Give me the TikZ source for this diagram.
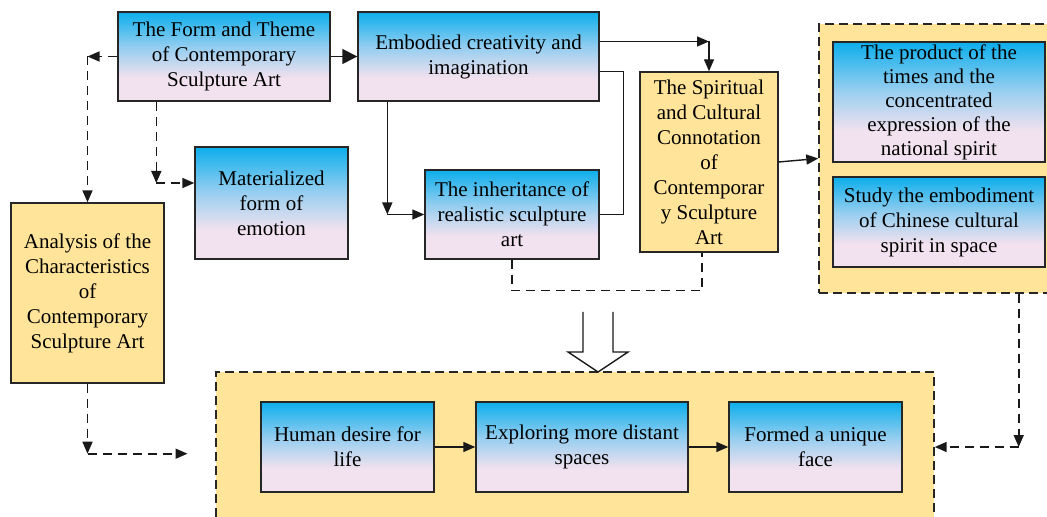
\documentclass[tikz,border=0pt]{standalone}
\usepackage{fontspec}
\setmainfont{Liberation Serif}
\usetikzlibrary{arrows.meta,positioning,calc}
\definecolor{skytop}{RGB}{12,174,236}
\definecolor{skymid}{RGB}{150,206,240}
\definecolor{skybot}{RGB}{242,225,238}
\definecolor{sandc}{RGB}{255,228,153}
\pgfdeclareverticalshading{skyshade}{100bp}{
	color(0bp)=(skybot); color(25bp)=(skybot); color(38bp)=(skybot);
	color(55bp)=(skymid); color(75bp)=(skytop); color(100bp)=(skytop)
}
\tikzset{
	skybox/.style={
		rectangle, draw=black!85, line width=0.7pt, shading=skyshade,
		align=center, inner sep=1pt, font=\fontsize{10.5}{12.5}\selectfont
	},
	%
	sandbox/.style={
		rectangle, draw=black!85, line width=0.7pt, fill=sandc,
		align=center, inner sep=1pt, font=\fontsize{10.5}{12.5}\selectfont
	},
	%
	groupbox/.style={
		rectangle, draw=black!85, line width=0.7pt, fill=sandc,
		dash pattern=on 4.5pt off 2.5pt
	},
	%
	link/.style={
		line width=0.7pt, draw=black!90, -{Triangle[length=6pt,width=5pt]}
	},
	%
	dlink/.style={
		link, line width=0.8pt, dash pattern=on 4.5pt off 3pt
	}
}

\begin{document}
\begin{tikzpicture}[x=0.5pt, y=-0.5pt]
\useasboundingbox (0,0) rectangle (1047,517);

% dashed groups
\node(outcome)[groupbox, minimum width=359pt, minimum height=75pt] at (575,447) {};
\node(spirit)[groupbox, minimum width=115pt, minimum height=134.5pt] at (934,158.5) {};

\node(form)[skybox, minimum width=106pt, minimum height=44.5pt] at (224,56.5) {The Form and Theme\\of Contemporary\\Sculpture Art};
\node(embodied)[skybox, minimum width=120.5pt, minimum height=44.5pt] at (478.5,56.5) {Embodied creativity and\\imagination};
\node(emotion)[skybox, minimum width=76.5pt, minimum height=56pt] at (271.5,203) {Materialized\\form of\\emotion};
\node(inherit)[skybox, minimum width=87pt, minimum height=44.5pt] at (512,214.5) {The inheritance of\\realistic sculpture\\art};
\node(connot)[sandbox, minimum width=69pt, minimum height=90pt] at (709,162) {The Spiritual\\and Cultural\\Connotation\\of\\Contemporar\\y Sculpture\\Art};
\node(product)[skybox, inner sep=0pt, minimum width=106pt, minimum height=60pt, font=\fontsize{10.5}{12}\selectfont] at (939,102) {The product of the\\times and the\\concentrated\\expression of the\\national spirit};
\node(chinese)[skybox, minimum width=106pt, minimum height=45pt] at (939,222) {Study the embodiment\\of Chinese cultural\\spirit in space};
\node(analysis)[sandbox, minimum width=76.5pt, minimum height=90pt] at (87.5,293) {Analysis of the\\Characteristics\\of\\Contemporary\\Sculpture Art};
\node(desire)[skybox, minimum width=86.5pt, minimum height=45pt] at (347.5,447) {Human desire for\\life};
\node(distant)[skybox, minimum width=106pt, minimum height=45pt] at (582,447) {Exploring more distant\\spaces};
\node(unique)[skybox, minimum width=86.5pt, minimum height=45pt] at (815.5,447) {Formed a unique\\face};

\draw[link, -{Triangle[length=7.5pt,width=7.5pt]}] (form) -- (embodied);
\draw[link] (desire) -- (distant);
\draw[link] (distant) -- (unique);
\draw[link] (connot.east) -- (spirit.west);

% embodied to connotation
\coordinate (e1) at ([yshift=7.5pt]embodied.east);
\coordinate (e1c) at (e1 -| connot.north);
\draw[link] (e1) -- (e1c);
\draw[link] (e1c) -- (connot.north);

% embodied down to inheritance
\coordinate (e2) at ([xshift=15pt]embodied.south west);
\coordinate (e2c) at (e2 |- inherit.west);
\draw[link] (e2) -- (e2c);
\draw[link] (e2c) -- (inherit.west);
\draw[line width=0.7pt, draw=black!90] ([yshift=-7.5pt]embodied.east) -- ++(12pt,0) |- (inherit.east);

% inheritance to connotation
\draw[line width=0.8pt, draw=black!90, dash pattern=on 4.5pt off 3pt] (inherit.south) -- ++(0,-15.5pt) -| ([xshift=-3.5pt]connot.south);

% form to analysis and emotion
\coordinate (f1c) at (analysis.north |- form.west);
\draw[dlink] (form.west) -- (f1c);
\draw[dlink] (f1c) -- (analysis.north);
\coordinate (f2) at ([xshift=19.5pt]form.south west);
\coordinate (f2e) at ([yshift=10pt]emotion.west);
\coordinate (f2c) at (f2 |- f2e);
\draw[dlink] (f2) -- (f2c);
\draw[dlink] (f2c) -- (f2e);

% analysis down
\coordinate (a1c) at ([yshift=-35pt]analysis.south);
\coordinate (a1e) at ([xshift=50pt]a1c);
\draw[dlink] (analysis.south) -- (a1c);
\draw[dlink] (a1c) -- (a1e);

% spirit down to outcome
\coordinate (s1) at ([xshift=-15.5pt]spirit.south east);
\coordinate (s1c) at (s1 |- outcome.east);
\draw[dlink] (s1) -- (s1c);
\draw[dlink] (s1c) -- (outcome.east);

% hollow arrow
\coordinate (down) at (598,372);
\draw[line width=0.7pt, draw=black!90, fill=white] ([shift={(-15,-60)}]down) -- ++(0,40) -- ++(-15,0) -- (down) -- ++(30,-20) -- ++(-15,0) -- ++(0,-40);
\end{tikzpicture}
\end{document}
